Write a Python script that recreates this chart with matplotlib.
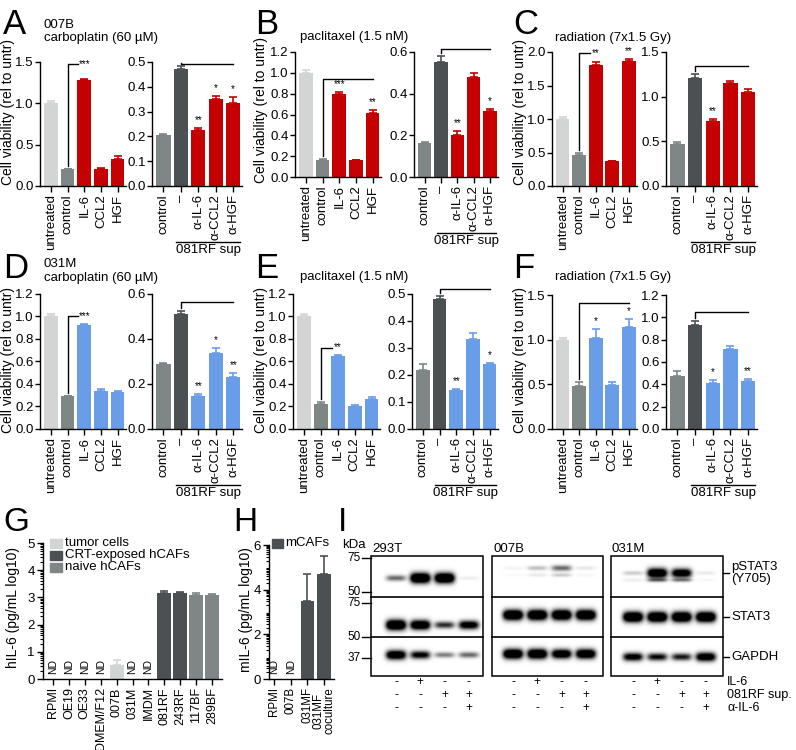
import numpy as np
import matplotlib
matplotlib.use("Agg")
import matplotlib.pyplot as plt
from matplotlib.patches import Rectangle

plt.rcParams['font.family'] = ['Liberation Sans', 'DejaVu Sans']
plt.rcParams['axes.linewidth'] = 1.0

# ---------------- data ----------------
left_cats = ["untreated", "control", "IL-6", "CCL2", "HGF"]
right_cats = ["control", "\u2013", "\u03b1-IL-6", "\u03b1-CCL2", "\u03b1-HGF"]

A_left_vals = [1.00, 0.20, 1.28, 0.21, 0.33]
A_left_err = [0.03, 0.01, 0.02, 0.01, 0.035]
A_left_stars = ["", "", "***", "", ""]
A_right_vals = [0.205, 0.47, 0.225, 0.352, 0.335]
A_right_err = [0.005, 0.015, 0.010, 0.012, 0.022]
A_right_stars = ["", "", "**", "*", "*"]

B_left_vals = [1.00, 0.165, 0.80, 0.16, 0.61]
B_left_err = [0.03, 0.005, 0.015, 0.008, 0.035]
B_left_stars = ["", "", "***", "", "**"]
B_right_vals = [0.165, 0.55, 0.20, 0.48, 0.315]
B_right_err = [0.004, 0.03, 0.02, 0.018, 0.012]
B_right_stars = ["", "", "**", "", "*"]

C_left_vals = [1.00, 0.47, 1.81, 0.37, 1.86]
C_left_err = [0.03, 0.02, 0.04, 0.01, 0.04]
C_left_stars = ["", "", "**", "", "**"]
C_right_vals = [0.47, 1.21, 0.73, 1.15, 1.05]
C_right_err = [0.02, 0.04, 0.02, 0.02, 0.04]
C_right_stars = ["", "", "**", "", ""]

D_left_vals = [1.00, 0.29, 0.925, 0.34, 0.33]
D_left_err = [0.02, 0.005, 0.008, 0.012, 0.008]
D_left_stars = ["", "", "***", "", ""]
D_right_vals = [0.29, 0.51, 0.145, 0.338, 0.23]
D_right_err = [0.003, 0.015, 0.010, 0.022, 0.018]
D_right_stars = ["", "", "**", "*", "**"]

E_left_vals = [1.00, 0.22, 0.65, 0.205, 0.27]
E_left_err = [0.02, 0.02, 0.005, 0.01, 0.01]
E_left_stars = ["", "", "**", "", ""]
E_right_vals = [0.22, 0.48, 0.145, 0.335, 0.24]
E_right_err = [0.022, 0.012, 0.002, 0.02, 0.006]
E_right_stars = ["", "", "**", "", "*"]

F_left_vals = [1.00, 0.48, 1.02, 0.49, 1.14]
F_left_err = [0.02, 0.045, 0.10, 0.04, 0.09]
F_left_stars = ["", "", "*", "", "*"]
F_right_vals = [0.475, 0.935, 0.415, 0.72, 0.43]
F_right_err = [0.045, 0.03, 0.025, 0.02, 0.015]
F_right_stars = ["", "", "*", "", "**"]

G_cats = ["RPMI", "OE19", "OE33", "DMEM/F12", "007B", "031M", "IMDM",
          "081RF", "243RF", "117BF", "289BF"]
G_vals = [0, 0, 0, 0, 0.50, 0, 0, 3.15, 3.18, 3.10, 3.07]
G_err = [0, 0, 0, 0, 0.20, 0, 0, 0.08, 0.03, 0.05, 0.05]
G_nd = [True, True, True, True, False, True, True, False, False, False, False]
G_group = ["tumor", "tumor", "tumor", "tumor", "tumor", "tumor", "tumor",
           "crt", "crt", "naive", "naive"]
G_legend = ["tumor cells", "CRT-exposed hCAFs", "naive hCAFs"]

H_cats = ["RPMI", "007B", "031MF", "031MF\ncoculture"]
H_vals = [0, 0, 3.5, 4.7]
H_err = [0, 0, 1.2, 0.8]
H_nd = [True, True, False, False]
H_legend = ["mCAFs"]

blot_lines = ["293T", "007B", "031M"]
pstat3_int = {"293T": [0.35, 1.0, 1.0, 0.04],
              "007B": [0.03, 0.15, 0.35, 0.06],
              "031M": [0.12, 0.90, 0.80, 0.05]}
stat3_int = {"293T": [1.0, 0.90, 0.50, 0.75],
             "007B": [1.0, 1.0, 1.0, 1.0],
             "031M": [1.0, 1.0, 1.0, 1.0]}
gapdh_int = {"293T": [0.85, 0.65, 0.30, 0.35],
             "007B": [0.95, 0.95, 0.85, 0.90],
             "031M": [0.70, 0.60, 0.55, 0.80]}
il6_signs = ["-", "+", "-", "-"]
sup_signs = ["-", "-", "+", "+"]
anti_signs = ["-", "-", "-", "+"]
kda_marks = ["75", "50", "75", "50", "37"]
blot_labels = ["pSTAT3\n(Y705)", "STAT3", "GAPDH"]
treat_labels = ["IL-6", "081RF sup.", "\u03b1-IL-6"]

# ---------------- style ----------------
LIGHT = '#d3d5d5'
GRAY = '#7e8786'
DARK = '#4b5152'
RED = '#c50000'
BLUE = '#6a9de8'

W, H = 796, 750
fig = plt.figure(figsize=(W / 100, H / 100), dpi=100)
ov = fig.add_axes([0, 0, 1, 1])
ov.set_xlim(0, W)
ov.set_ylim(H, 0)
ov.set_autoscale_on(False)
ov.axis('off')

FS = 9.5


def add_ax(x0, y0, x1, y1):
    ax = fig.add_axes([x0 / W, 1 - y1 / H, (x1 - x0) / W, (y1 - y0) / H])
    ax.set_facecolor('none')
    return ax


XL = (-0.65, 4.5)


def bar_panel(rect, cats, vals, errs, colors, ymax, step, stars, bracket, sup):
    x0, y0, x1, y1 = rect
    ax = add_ax(*rect)
    idx = np.arange(len(vals))
    ax.bar(idx, vals, width=0.82, color=colors, zorder=2)
    for i, (v, e, c) in enumerate(zip(vals, errs, colors)):
        ax.errorbar(i, v, yerr=[[0], [e]], fmt='none', ecolor=c,
                    elinewidth=1.2, capsize=3, capthick=1.2, zorder=1, clip_on=False)
    ax.set_xlim(*XL)
    ax.set_ylim(0, ymax)
    ticks = np.arange(0, ymax + 1e-9, step)
    ax.set_yticks(ticks)
    ax.set_yticklabels([f"{t:.1f}" for t in ticks])
    ax.set_xticks(idx)
    ax.set_xticklabels(cats, rotation=90)
    ax.tick_params(axis='x', length=4, width=1, labelsize=FS, pad=2)
    ax.tick_params(axis='y', length=3.5, width=1, labelsize=FS, pad=1)
    for s in ['top', 'right']:
        ax.spines[s].set_visible(False)
    ppu = (y1 - y0) / ymax
    xs, xe, ybr = bracket
    ys = vals[xs] + errs[xs] + 3 / ppu
    ax.plot([xs, xs, xe], [ys, ybr, ybr], color='k', lw=1, clip_on=False)
    for i, s in enumerate(stars):
        if s:
            yy = vals[i] + errs[i] + 8 / ppu
            if 0 < i - xe < 0.5:
                yy = max(yy, ybr)
            ax.text(i, yy, s, ha='center', va='center', fontsize=7, clip_on=False)
    if sup:
        def px(x):
            return x0 + (x - XL[0]) / (XL[1] - XL[0]) * (x1 - x0)
        yl = y1 + 56
        ov.plot([px(0.75), px(4.4)], [yl, yl], color='k', lw=1)
        ov.text((px(0.75) + px(4.4)) / 2, yl + 2, "081RF sup", ha='center',
                va='top', fontsize=FS)
    return ax


row1_left_cols = [LIGHT, GRAY, RED, RED, RED]
row1_right_cols = [GRAY, DARK, RED, RED, RED]
row2_left_cols = [LIGHT, GRAY, BLUE, BLUE, BLUE]
row2_right_cols = [GRAY, DARK, BLUE, BLUE, BLUE]

bar_panel((40, 62, 126, 186), left_cats, A_left_vals, A_left_err, row1_left_cols,
          1.5, 0.5, A_left_stars, (1, 1.65, 1.47), False)
bar_panel((152, 62, 242, 186), right_cats, A_right_vals, A_right_err, row1_right_cols,
          0.5, 0.1, A_right_stars, (1, 4, 0.49), True)
bar_panel((295, 52, 381, 177), left_cats, B_left_vals, B_left_err, row1_left_cols,
          1.2, 0.2, B_left_stars, (1, 4, 0.94), False)
bar_panel((414, 52, 498, 177), right_cats, B_right_vals, B_right_err, row1_right_cols,
          0.6, 0.2, B_right_stars, (1, 4, 0.615), True)
bar_panel((552, 52, 637, 186), left_cats, C_left_vals, C_left_err, row1_left_cols,
          2.0, 0.5, C_left_stars, (1, 1.65, 1.98), False)
bar_panel((666, 52, 757, 186), right_cats, C_right_vals, C_right_err, row1_right_cols,
          1.5, 0.5, C_right_stars, (1, 4, 1.34), True)

bar_panel((40, 294, 126, 429), left_cats, D_left_vals, D_left_err, row2_left_cols,
          1.2, 0.2, D_left_stars, (1, 1.65, 1.0), False)
bar_panel((152, 294, 242, 429), right_cats, D_right_vals, D_right_err, row2_right_cols,
          0.6, 0.2, D_right_stars, (1, 4, 0.566), True)
bar_panel((293, 294, 380, 429), left_cats, E_left_vals, E_left_err, row2_left_cols,
          1.2, 0.2, E_left_stars, (1, 1.65, 0.72), False)
bar_panel((412, 294, 498, 429), right_cats, E_right_vals, E_right_err, row2_right_cols,
          0.5, 0.1, E_right_stars, (1, 4, 0.518), True)
bar_panel((552, 295, 637, 429), left_cats, F_left_vals, F_left_err, row2_left_cols,
          1.5, 0.5, F_left_stars, (1, 4, 1.41), False)
bar_panel((666, 295, 757, 429), right_cats, F_right_vals, F_right_err, row2_right_cols,
          1.2, 0.2, F_right_stars, (1, 4, 1.05), True)

# titles
ov.text(44, 25.5, "007B", fontsize=FS, va='center', ha='left')
ov.text(44, 37.5, "carboplatin (60 \u00b5M)", fontsize=FS, va='center', ha='left')
ov.text(300, 37, "paclitaxel (1.5 nM)", fontsize=FS, va='center', ha='left')
ov.text(555, 38, "radiation (7x1.5 Gy)", fontsize=FS, va='center', ha='left')
ov.text(44, 264, "031M", fontsize=FS, va='center', ha='left')
ov.text(44, 278, "carboplatin (60 \u00b5M)", fontsize=FS, va='center', ha='left')
ov.text(300, 277, "paclitaxel (1.5 nM)", fontsize=FS, va='center', ha='left')
ov.text(555, 277, "radiation (7x1.5 Gy)", fontsize=FS, va='center', ha='left')

# y labels
yl_txt = "Cell viability (rel to untr)"
for (xx, yy) in [(8, 112), (261, 110), (520, 112), (8, 360), (261, 360), (520, 360)]:
    ov.text(xx, yy, yl_txt, rotation=90, fontsize=10, ha='center', va='center')

# panel letters
for lt, (xx, yy) in {"A": (3, 8), "B": (255, 8), "C": (513, 8),
                     "D": (3, 252), "E": (255, 252), "F": (513, 252),
                     "G": (3, 507), "H": (233, 507), "I": (338, 507)}.items():
    ov.text(xx, yy, lt, fontsize=24 if lt in "GHI" else 25, ha='left', va='top')


def log_panel(rect, cats, vals, errs, cols, nd, ymax, tstep, xl, width, xfs, lsp):
    x0, y0, x1, y1 = rect
    ax = add_ax(*rect)
    idx = np.arange(len(vals))
    ax.bar(idx, vals, width=width, color=cols, zorder=2)
    for i, (v, e, c) in enumerate(zip(vals, errs, cols)):
        if e > 0:
            ax.errorbar(i, v, yerr=[[0], [e]], fmt='none', ecolor=c,
                        elinewidth=1.2, capsize=3, capthick=1.2, zorder=1)
    ppu = (y1 - y0) / ymax
    for i, flag in enumerate(nd):
        if flag:
            ax.text(i, 5 / ppu, "ND", rotation=90, ha='center', va='bottom', fontsize=7.5)
    ax.set_xlim(*xl)
    ax.set_ylim(0, ymax)
    ax.set_yticks(np.arange(0, ymax + 1, tstep))
    minors = [n + np.log10(k) for n in range(ymax) for k in range(2, 10)]
    ax.set_yticks(minors, minor=True)
    ax.set_xticks(idx)
    ax.set_xticklabels(cats, rotation=90, fontsize=xfs, linespacing=lsp)
    ax.tick_params(axis='y', length=4, width=1, labelsize=FS, pad=2)
    ax.tick_params(axis='x', length=4, width=1, pad=2)
    ax.tick_params(axis='y', which='minor', length=2, width=0.8)
    for s in ['top', 'right']:
        ax.spines[s].set_visible(False)
    return ax


gcol_map = {"tumor": LIGHT, "crt": DARK, "naive": GRAY}
G_cols = [gcol_map[g] for g in G_group]
log_panel((43, 543, 222, 679), G_cats, G_vals, G_err, G_cols, G_nd, 5, 1,
          (-0.63, 10.63), 0.88, 9, 1.0)
ov.text(13, 607, "hIL-6 (pg/mL log10)", rotation=90, fontsize=10, ha='center', va='center')
for k, (lab, col) in enumerate(zip(G_legend, [LIGHT, DARK, GRAY])):
    yy = 543 + 12 * k
    ov.add_patch(Rectangle((50, yy - 4.5), 12, 9, color=col))
    ov.text(65, yy, lab, fontsize=FS, va='center', ha='left')

log_panel((269, 545, 334, 679), H_cats, H_vals, H_err, [DARK] * 4, H_nd, 6, 2,
          (-0.3, 3.6), 0.8, 8.3, 0.85)
ov.text(246, 610, "mIL-6 (pg/mL log10)", rotation=90, fontsize=10, ha='center', va='center')
ov.add_patch(Rectangle((272, 539), 11, 9, color=DARK))
ov.text(285, 543, H_legend[0], fontsize=FS, va='center', ha='left')

# ---------------- panel I: blots ----------------
box_x = {"293T": (371, 483), "007B": (492, 603), "031M": (611, 723)}
lane0 = {"293T": 25, "007B": 21, "031M": 22}
band_y = {"293T": (578, 625, 655), "007B": (568, 615, 654), "031M": (573, 617, 657)}
BT, D1, D2, BB = 556, 597, 637, 676
LSP = 24.3

for name in blot_lines:
    bx0, bx1 = box_x[name]
    lanes = [bx0 + lane0[name] + LSP * i for i in range(4)]
    res = 4
    ys = np.linspace(BT, BB, (BB - BT) * res)
    xs = np.linspace(bx0, bx1, (bx1 - bx0) * res)
    X, Y = np.meshgrid(xs, ys)
    dark = np.zeros_like(X)
    yp, yst, yg = band_y[name]
    for yc, ints in [(yp, pstat3_int[name]), (yst, stat3_int[name]), (yg, gapdh_int[name])]:
        for lx, a in zip(lanes, ints):
            sy = 1.2 + 2.4 * a
            px_ = np.exp(-np.abs((X - lx) / 10.0) ** 4)
            py_ = np.exp(-0.5 * ((Y - yc) / sy) ** 2)
            dark += 1.7 * a * px_ * py_
            if yc == yp and name != "293T":
                dark += 0.6 * a * px_ * np.exp(-0.5 * ((Y - yc - 7) / 1.3) ** 2)
    img = 1 - np.clip(dark, 0, 1)
    ov.imshow(img, extent=(bx0, bx1, BB, BT), cmap='gray', vmin=0, vmax=1,
              aspect='auto', interpolation='bilinear', zorder=1)
    ov.add_patch(Rectangle((bx0, BT), bx1 - bx0, BB - BT, fill=False, ec='k', lw=1.1, zorder=3))
    ov.plot([bx0, bx1], [D1, D1], color='k', lw=1.2, zorder=3)
    ov.plot([bx0, bx1], [D2, D2], color='k', lw=1.2, zorder=3)
    ov.text(bx0 + 1, 549, name, fontsize=FS, ha='left', va='center')
    for row, signs in enumerate([il6_signs, sup_signs, anti_signs]):
        for lx, s in zip(lanes, signs):
            ov.text(lx, 682 + 13 * row, s, fontsize=8.5, ha='center', va='center')

ov.text(342, 545, "kDa", fontsize=FS, ha='left', va='center')
for lab, yy in zip(kda_marks, [558, 592, 603, 637, 658]):
    ov.text(361, yy, lab, fontsize=8.5, ha='right', va='center')
    ov.plot([362, 371], [yy, yy], color='k', lw=1)

for lab, yy in zip(blot_labels, [573, 617, 657]):
    ov.plot([723, 729], [yy, yy], color='k', lw=1)
    ov.text(731, yy, lab, fontsize=FS, ha='left', va='center', linespacing=1.0)

for k, lab in enumerate(treat_labels):
    ov.text(727, 682 + 13 * k, lab, fontsize=9, ha='left', va='center')

ov.set_xlim(0, W)
ov.set_ylim(H, 0)
fig.savefig("out.png", dpi=100)
